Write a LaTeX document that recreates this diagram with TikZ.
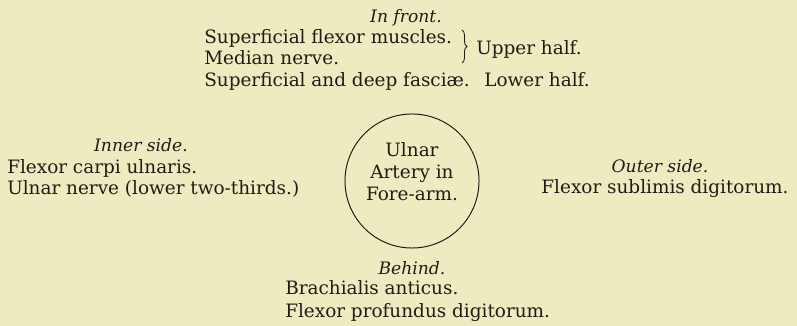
\documentclass[tikz,border=0pt]{standalone}
\usepackage{fontspec}
\setmainfont{DejaVu Serif}
\usepackage{tikz}
\usetikzlibrary{positioning,decorations.pathreplacing}
\definecolor{paper}{RGB}{239,235,193}
\definecolor{ink}{RGB}{30,28,22}

\begin{document}
\begin{tikzpicture}[
      x=0.025cm, y=-0.025cm,
      txt/.style={inner sep=0pt, text=ink, anchor=base, font=\fontsize{13.1}{15.2}\selectfont},
      head/.style={txt, font=\fontsize{12.2}{15.2}\selectfont\itshape},
      line/.style={txt, anchor=base west},
      vessel/.style={circle, draw=ink, line width=0.7pt, minimum size=3.35cm, inner sep=0pt}
    ]

    % -------- page --------
    \fill[paper] (0,0) rectangle (797,326);
    \useasboundingbox (0,0) rectangle (797,326);

    % -------- centre --------
    \node[vessel] (artery) at (412,181) {};
    \node[txt] (ulnar) at (412,157) {Ulnar};
    \node[txt] (arteryin) at (412,179) {Artery in};
    \node[txt] (forearm) at (412,201) {Fore-arm.};

    % -------- in front --------
    \node[head] (front) at (406,23) {In front.};
    \node[line] (flexmus) at (204,44) {Superficial flexor muscles.};
    \node[line] (median) at (204,65) {Median nerve.};
    \node[line] (fascia) at (204,87) {Superficial and deep fasciæ.};
    \draw[ink, line width=0.6pt, decorate, decoration={brace, amplitude=3.5pt}]
      (462,30) -- (462,63);
    \node[line] (upper) at (476,55) {Upper half.};
    \node[line] (lower) at (484,87) {Lower half.};

    % -------- inner side --------
    \node[head] (inner) at (141,152) {Inner side.};
    \node[line] (carpi) at (7,174) {Flexor carpi ulnaris.};
    \node[line] (ulnarn) at (7,195) {Ulnar nerve (lower two-thirds.)};

    % -------- outer side --------
    \node[head] (outer) at (660,173) {Outer side.};
    \node[txt] (sublimis) at (665,194) {Flexor sublimis digitorum.};

    % -------- behind --------
    \node[head] (behind) at (412,275) {Behind.};
    \node[line] (brach) at (285,295) {Brachialis anticus.};
    \node[line] (profund) at (285,318) {Flexor profundus digitorum.};

\end{tikzpicture}
\end{document}
